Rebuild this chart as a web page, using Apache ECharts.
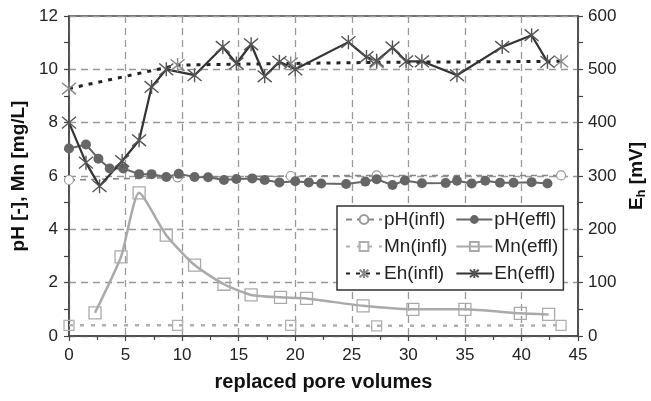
<!DOCTYPE html>
<html>
<head>
<meta charset="utf-8">
<script src="https://cdn.jsdelivr.net/npm/echarts@6/dist/echarts.min.js"></script>
<style>html,body{margin:0;padding:0;background:#fff;}#c{width:651px;height:401px;}</style>
</head>
<body>
<div id="c"></div>
<script>
// pH influent / effluent
const phInflX = [0, 9.6, 19.6, 27.2, 43.5];
const phInflY = [5.85, 5.95, 6.0, 6.02, 6.02];
const phEfflX = [0, 1.5, 2.6, 3.6, 4.8, 6.2, 7.3, 8.6, 9.7, 11.1, 12.3, 13.7, 14.8, 16.2, 17.3, 18.6, 20.0, 21.2, 22.3, 24.5, 26.2, 27.2, 28.6, 29.7, 31.2, 33.3, 34.3, 35.6, 36.8, 38.1, 39.3, 40.9, 42.3];
const phEfflY = [7.03, 7.18, 6.65, 6.28, 6.28, 6.07, 6.07, 5.96, 6.08, 5.96, 5.95, 5.85, 5.89, 5.91, 5.85, 5.76, 5.80, 5.76, 5.72, 5.70, 5.79, 5.88, 5.66, 5.83, 5.73, 5.74, 5.82, 5.72, 5.82, 5.75, 5.75, 5.77, 5.72];
// Mn influent / effluent
const mnInflX = [0, 9.6, 19.6, 27.2, 43.5];
const mnInflY = [0.40, 0.40, 0.40, 0.38, 0.40];
const mnEfflX = [2.3, 4.6, 6.2, 8.6, 11.1, 13.7, 16.1, 18.7, 21.0, 26.0, 30.4, 35.0, 39.9, 42.4];
const mnEfflY = [0.87, 2.97, 5.37, 3.78, 2.66, 1.94, 1.54, 1.45, 1.41, 1.13, 1.00, 1.00, 0.85, 0.81];
// Eh influent / effluent (mV)
const ehInflX = [0, 9.6, 19.6, 27.2, 43.5];
const ehInflY = [464, 508, 511, 513, 515];
const ehEfflX = [0, 1.5, 2.7, 4.7, 6.2, 7.3, 8.6, 11.1, 13.6, 14.8, 16.1, 17.3, 18.6, 20.0, 24.7, 26.3, 27.2, 28.6, 29.8, 31.2, 34.3, 38.3, 40.9, 42.3];
const ehEfflY = [400, 325, 281, 328, 367, 467, 500, 489, 542, 511, 547, 487, 514, 500, 551, 523, 516, 541, 515, 515, 489, 542, 564, 514];

const zip = (xs, ys) => xs.map((x, i) => [x, ys[i]]);
const FONT = 'Liberation Sans, Arial, sans-serif';
const star = 'path://M0,0L10,10M10,0L0,10M5,-1L5,11';

const chart = echarts.init(document.getElementById('c'), null, {renderer: 'canvas'});
chart.setOption({
  animation: false,
  backgroundColor: '#fff',
  textStyle: {fontFamily: FONT},
  grid: {left: 69, right: 73, top: 16, bottom: 65, show: true, borderColor: '#444', borderWidth: 1.5,
         containLabel: false, outerBoundsMode: 'none'},
  legend: {
    orient: 'vertical', left: 337, top: 206, height: 74, itemGap: 8,
    itemWidth: 36, itemHeight: 11, padding: [4, 5, 7, 8],
    borderColor: '#333', borderWidth: 1.5, backgroundColor: '#fff',
    textStyle: {fontSize: 19, color: '#222', fontFamily: FONT, padding: [0, 0, 0, -3]},
    data: ['pH(infl)', 'Mn(infl)', 'Eh(infl)', 'pH(effl)', 'Mn(effl)', 'Eh(effl)']
  },
  xAxis: {
    type: 'value', min: 0, max: 45, interval: 5,
    name: 'replaced pore volumes', nameLocation: 'middle', nameGap: 36,
    nameTextStyle: {fontSize: 20, fontWeight: 'bold', color: '#111', fontFamily: FONT},
    axisLine: {lineStyle: {color: '#444', width: 1.5}},
    axisTick: {show: true, length: 5, lineStyle: {color: '#444', width: 1.2}},
    minorTick: {show: true, splitNumber: 2, length: 4, lineStyle: {color: '#444', width: 1.2}},
    axisLabel: {fontSize: 17, color: '#222', margin: 11, fontFamily: FONT},
    splitLine: {show: true, lineStyle: {color: '#999', width: 1.3, type: [7, 5]}}
  },
  yAxis: [{
    type: 'value', min: 0, max: 12, interval: 2, position: 'left',
    name: 'pH [-], Mn [mg/L]', nameLocation: 'middle', nameGap: 40, nameRotate: 90,
    nameTextStyle: {fontSize: 19, fontWeight: 'bold', color: '#111', fontFamily: FONT},
    axisLine: {show: true, lineStyle: {color: '#444', width: 1.5}},
    axisTick: {show: true, length: 5, lineStyle: {color: '#444', width: 1.2}},
    minorTick: {show: true, splitNumber: 2, length: 5, lineStyle: {color: '#444', width: 1.2}},
    axisLabel: {fontSize: 17, color: '#222', margin: 11, fontFamily: FONT},
    splitLine: {show: true, lineStyle: {color: '#999', width: 1.3, type: [7, 5]}}
  }, {
    type: 'value', min: 0, max: 600, interval: 100, position: 'right',
    name: '{n|E}{s|h}{n| [mV]}', nameLocation: 'middle', nameGap: 46, nameRotate: 90,
    nameTextStyle: {
      fontSize: 19, fontWeight: 'bold', color: '#111', fontFamily: FONT,
      rich: {
        n: {fontSize: 19, fontWeight: 'bold', color: '#111', fontFamily: FONT},
        s: {fontSize: 13, fontWeight: 'bold', color: '#111', fontFamily: FONT, padding: [10, 0, 0, 0]}
      }
    },
    axisLine: {show: true, lineStyle: {color: '#444', width: 1.5}},
    axisTick: {show: true, length: 5, lineStyle: {color: '#444', width: 1.2}},
    minorTick: {show: true, splitNumber: 2, length: 5, lineStyle: {color: '#444', width: 1.2}},
    axisLabel: {fontSize: 17, color: '#222', margin: 10, fontFamily: FONT},
    splitLine: {show: false}
  }],
  series: [
    {
      name: 'Mn(infl)', type: 'line', yAxisIndex: 0, data: zip(mnInflX, mnInflY),
      symbol: 'rect', symbolSize: 10,
      lineStyle: {color: '#b0b0b0', width: 2.5, type: [4, 7]},
      itemStyle: {color: 'rgba(255,255,255,0)', borderColor: '#b0b0b0', borderWidth: 1.3}
    },
    {
      name: 'Mn(effl)', type: 'line', yAxisIndex: 0, data: zip(mnEfflX, mnEfflY),
      symbol: 'rect', symbolSize: 12, smooth: 0.2,
      lineStyle: {color: '#aaaaaa', width: 2.5},
      itemStyle: {color: 'rgba(255,255,255,0)', borderColor: '#aaaaaa', borderWidth: 1.3}
    },
    {
      name: 'pH(infl)', type: 'line', yAxisIndex: 0, data: zip(phInflX, phInflY),
      symbol: 'circle', symbolSize: 9,
      lineStyle: {color: '#888', width: 1.6, type: [6, 5]},
      itemStyle: {color: '#fff', borderColor: '#999', borderWidth: 1.2}
    },
    {
      name: 'pH(effl)', type: 'line', yAxisIndex: 0, data: zip(phEfflX, phEfflY),
      symbol: 'circle', symbolSize: 10,
      lineStyle: {color: '#666', width: 2},
      itemStyle: {color: '#666', borderColor: '#666', borderWidth: 0}
    },
    {
      name: 'Eh(infl)', type: 'line', yAxisIndex: 1, data: zip(ehInflX, ehInflY),
      symbol: star, symbolSize: 14,
      lineStyle: {color: '#222', width: 3, type: [4, 6]},
      itemStyle: {color: 'rgba(0,0,0,0)', borderColor: '#888', borderWidth: 1.4}
    },
    {
      name: 'Eh(effl)', type: 'line', yAxisIndex: 1, data: zip(ehEfflX, ehEfflY),
      symbol: star, symbolSize: 14,
      lineStyle: {color: '#333', width: 2.2},
      itemStyle: {color: 'rgba(0,0,0,0)', borderColor: '#555', borderWidth: 1.4}
    }
  ]
});
</script>
</body>
</html>
